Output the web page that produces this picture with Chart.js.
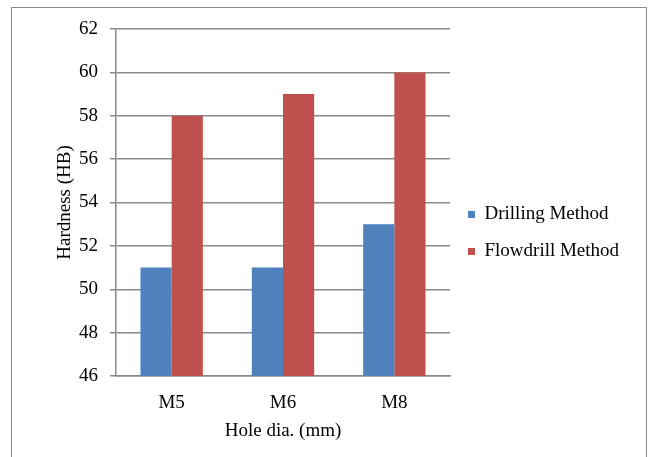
<!DOCTYPE html>
<html>
<head>
<meta charset="utf-8">
<script src="https://cdn.jsdelivr.net/npm/chart.js@4"></script>
<style>
html,body{margin:0;padding:0;background:#fff;}
#wrap{position:relative;width:652px;height:457px;}
#frame{position:absolute;left:11px;top:7px;width:636px;height:460px;border:1px solid #8a8a8a;border-bottom:none;box-sizing:border-box;}
canvas{position:absolute;left:0;top:0;}
</style>
</head>
<body>
<div id="wrap">
<div id="frame"></div>
<canvas id="c" width="652" height="457"></canvas>
</div>
<script>
const categories = ["M5", "M6", "M8"];
const drilling = [51, 51, 53];
const flowdrill = [58, 59, 60];
const seriesNames = ["Drilling Method", "Flowdrill Method"];
const yTicks = { min: 46, max: 62, step: 2 };
const xTitle = "Hole dia. (mm)";
const yTitle = "Hardness (HB)";

const font = { family: "'Liberation Serif', 'Times New Roman', serif", size: 19 };

// keep the legend box wide enough for its text
const legendWidthPlugin = {
  id: 'legendWidth',
  afterInit(chart) {
    const lg = chart.legend;
    if (!lg) return;
    const orig = lg.fit.bind(lg);
    lg.fit = function () { orig(); this.width = 188; };
  }
};

new Chart(document.getElementById('c'), {
  type: 'bar',
  data: {
    labels: categories,
    datasets: [
      { label: seriesNames[0], data: drilling, backgroundColor: '#4F81BD' },
      { label: seriesNames[1], data: flowdrill, backgroundColor: '#C0504D' }
    ]
  },
  plugins: [legendWidthPlugin],
  options: {
    responsive: false,
    animation: false,
    devicePixelRatio: 1,
    layout: { padding: { left: 48, top: 29, right: 14, bottom: 20 } },
    datasets: { bar: { barPercentage: 1, categoryPercentage: 0.56 } },
    plugins: {
      legend: {
        position: 'right',
        labels: { font: font, color: '#000', boxWidth: 7, boxHeight: 7, padding: 18 }
      },
      tooltip: { enabled: false }
    },
    scales: {
      x: {
        grid: { display: false, drawTicks: false },
        border: { display: true, color: '#8a8a8a', width: 1.5 },
        ticks: { font: font, color: '#000', padding: 16 },
        title: { display: true, text: xTitle, font: font, color: '#000', padding: { top: 2, bottom: -5 } },
        afterFit: s => { s.height = 61; }
      },
      y: {
        min: yTicks.min, max: yTicks.max,
        ticks: { stepSize: yTicks.step, font: font, color: '#000', padding: 12 },
        grid: { color: '#8a8a8a', lineWidth: 1.5, tickLength: 6 },
        border: { display: true, color: '#8a8a8a', width: 1.5 },
        title: { display: true, text: yTitle, font: font, color: '#000', padding: 6 },
        afterFit: s => { s.width = 68; }
      }
    }
  }
});
</script>
</body>
</html>
